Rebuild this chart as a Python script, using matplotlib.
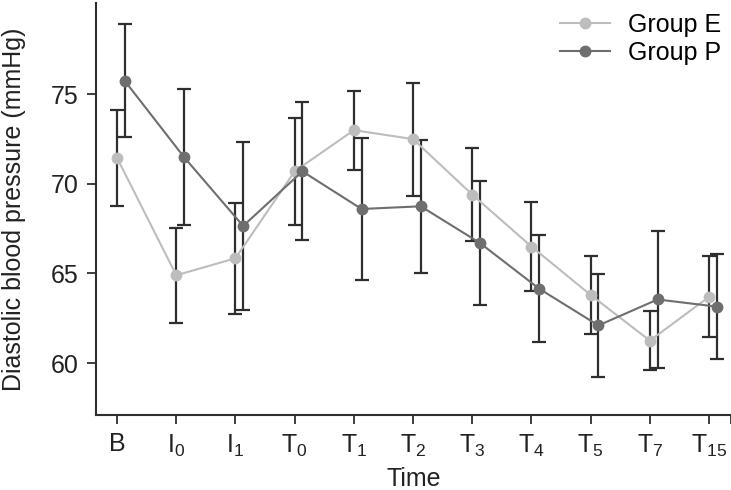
import numpy
import matplotlib
matplotlib.use("Agg")
import matplotlib.pyplot as plt

plt.rcParams['font.family'] = ['Liberation Sans', 'DejaVu Sans']
plt.rcParams['mathtext.fontset'] = 'custom'
plt.rcParams['mathtext.rm'] = 'Liberation Sans'

times = ['B', r'I$_0$', r'I$_1$', r'T$_0$', r'T$_1$', r'T$_2$', r'T$_3$',
         r'T$_4$', r'T$_5$', r'T$_7$', r'T$_{15}$']

# group E: mean and SD
group_e = [71.45, 64.9, 65.85, 70.7, 73.0, 72.5, 69.4, 66.5, 63.8, 61.25, 63.7]
group_e_sd = [2.7, 2.65, 3.1, 3.0, 2.2, 3.15, 2.6, 2.5, 2.15, 1.65, 2.25]

# group P: mean and SD
group_p = [75.75, 71.5, 67.65, 70.7, 68.6, 68.75, 66.7, 64.15, 62.1, 63.55, 63.15]
group_p_sd = [3.15, 3.8, 4.7, 3.85, 3.95, 3.7, 3.45, 3.0, 2.85, 3.8, 2.95]

x = numpy.arange(len(times))
shift = 0.13

fig = plt.figure(figsize=(7.31, 4.90), dpi=100)
ax = fig.add_axes([0.131, 0.153, 0.869, 0.841])

err = dict(fmt='none', ecolor='#2e2e2e', elinewidth=1.6, capsize=5, capthick=1.6, zorder=2)
ax.errorbar(x, group_e, yerr=group_e_sd, **err)
ax.errorbar(x + shift, group_p, yerr=group_p_sd, **err)

ax.plot(x, group_e, '-o', color='#bdbdbd', lw=1.5, ms=7.5, label='Group E', zorder=3)
ax.plot(x + shift, group_p, '-o', color='#6e6e6e', lw=1.5, ms=7.5, label='Group P', zorder=3)

ax.set_xlim(-0.36, 10.37)
ax.set_ylim(57.1, 80.1)
ax.set_xticks(x)
ax.set_xticklabels(times)
ax.set_xticks([10.37], minor=True)
ax.set_yticks([60, 65, 70, 75])

for s in ['top', 'right']:
    ax.spines[s].set_visible(False)
for s in ['left', 'bottom']:
    ax.spines[s].set_linewidth(1.5)
    ax.spines[s].set_color('#2e2e2e')

ax.tick_params(which='both', direction='out', length=6.5, width=1.3, color='#2e2e2e',
               labelsize=18, labelcolor='#222222', pad=6)

ax.set_xlabel('Time', fontsize=18, color='#222222', labelpad=6)
ax.set_ylabel('Diastolic blood pressure (mmHg)', fontsize=18, color='#222222', labelpad=18)

ax.legend(loc='upper right', frameon=False, fontsize=18, handlelength=2.0,
          borderaxespad=0.0, labelspacing=0.15, handletextpad=0.7,
          bbox_to_anchor=(1.0, 1.0))

fig.savefig('out.png', dpi=100)
